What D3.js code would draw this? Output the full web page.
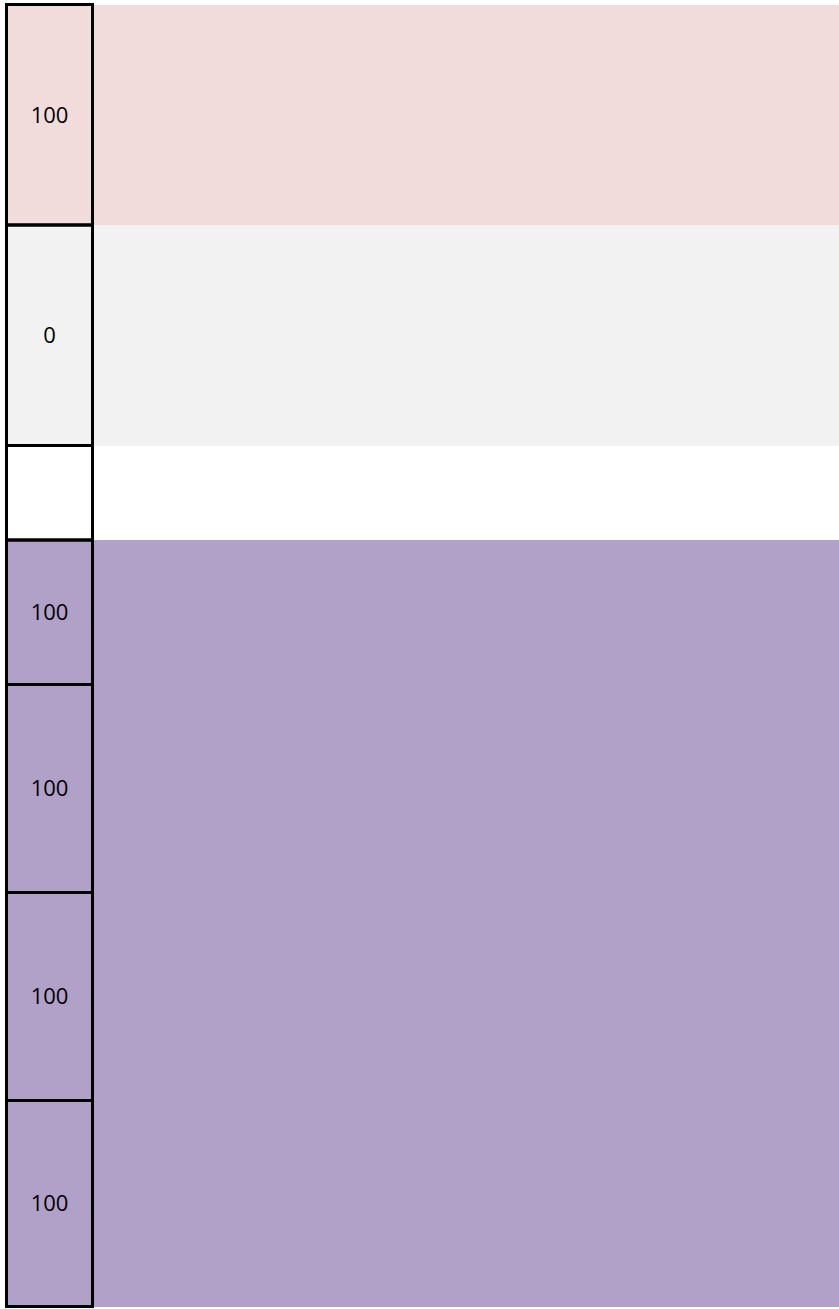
<!DOCTYPE html>
<html>
<head>
<meta charset="utf-8">
<script src="https://cdn.jsdelivr.net/npm/d3@7"></script>
<style>
  body { margin: 0; background: #fff; }
</style>
</head>
<body>
<div id="chart"></div>
<script>
// row labels and fills, top to bottom
var labels = ["100", "0", "", "100", "100", "100", "100"];
var groups = ["high", "zero", "blank", "band", "band", "band", "band"];
var groupNames = ["high", "zero", "blank", "band"];
var groupColors = ["#f2dcdb", "#f2f2f2", "#ffffff", "#b1a0c7"];

var width = 839,
  height = 1309,
  topEdge = 4.5,
  rowHeights = [220.5, 220.5, 94.5, 144.5, 208, 208, 206],
  colLeft = 6.5,
  colRight = 92.5,
  strokeW = 3;

var color = d3.scaleOrdinal().domain(groupNames).range(groupColors);

// cumulative row edges
var edges = [topEdge];
rowHeights.forEach(function (h, i) { edges.push(edges[i] + h); });

var rows = labels.map(function (d, i) {
  return { label: d, group: groups[i], y0: edges[i], y1: edges[i + 1] };
});

var svg = d3.select("#chart").append("svg")
  .attr("width", width)
  .attr("height", height);

// colored bands across the whole row
svg.selectAll("rect.band")
  .data(rows)
  .enter().append("rect")
  .attr("class", "band")
  .attr("x", colLeft)
  .attr("y", d => Math.round(d.y0))
  .attr("width", width - colLeft)
  .attr("height", d => Math.round(d.y1) - Math.round(d.y0))
  .attr("fill", d => color(d.group))
  .attr("shape-rendering", "crispEdges");

// label cell borders
svg.selectAll("rect.cell")
  .data(rows)
  .enter().append("rect")
  .attr("class", "cell")
  .attr("x", colLeft)
  .attr("y", d => d.y0)
  .attr("width", colRight - colLeft)
  .attr("height", d => d.y1 - d.y0)
  .attr("fill", "none")
  .attr("stroke", "#000")
  .attr("stroke-width", strokeW);

svg.selectAll("text.label")
  .data(rows)
  .enter().append("text")
  .attr("class", "label")
  .attr("x", (colLeft + colRight) / 2)
  .attr("y", d => (d.y0 + d.y1) / 2)
  .attr("dy", "0.36em")
  .attr("text-anchor", "middle")
  .style("font", "22px 'Open Sans', sans-serif")
  .style("fill", "#000")
  .text(d => d.label);
</script>
</body>
</html>
